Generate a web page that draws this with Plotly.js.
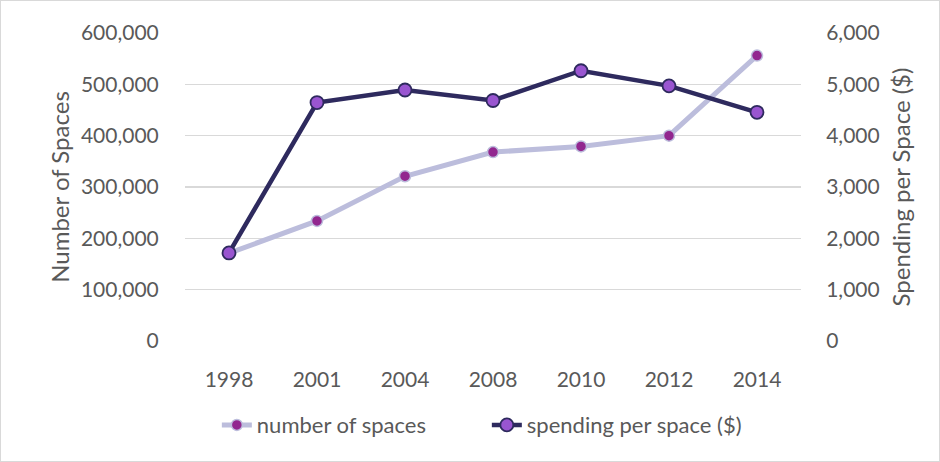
<!DOCTYPE html>
<html><head><meta charset="utf-8">
<script src="https://cdn.plot.ly/plotly-3.0.1.min.js"></script>
<style>html,body{margin:0;padding:0;background:#fff}#wrap{position:relative;width:940px;height:462px}#chart{width:940px;height:462px}#frame{position:absolute;left:0;top:0;width:938px;height:460px;border:1px solid #d9d9d9;pointer-events:none}</style>
</head><body><div id="wrap"><div id="chart"></div><div id="frame"></div></div>
<script>
const years = ['1998','2001','2004','2008','2010','2012','2014'];
const numberOfSpaces = [171000, 234000, 321000, 368000, 379000, 400000, 556000];
const spendingPerSpace = [1715, 4645, 4890, 4685, 5265, 4970, 4455];

const font = 'Lato, "Open Sans", "Liberation Sans", sans-serif';
const grey = '#595959';
const traces = [
  {x: years, y: numberOfSpaces, name: 'number of spaces', type: 'scatter', mode: 'lines+markers',
   line: {color: '#bcbddc', width: 5}, marker: {color: '#92278f', size: 11, line: {color: '#bcbddc', width: 1.5}}, yaxis: 'y'},
  {x: years, y: spendingPerSpace, name: 'spending per space ($)', type: 'scatter', mode: 'lines+markers',
   line: {color: '#2e2a5e', width: 4.5}, marker: {color: '#9955d0', size: 13, line: {color: '#2e2a5e', width: 1.8}}, yaxis: 'y2'}
];
const layout = {
  width: 940, height: 462,
  margin: {l: 185, r: 139, t: 33, b: 121},
  paper_bgcolor: '#fff', plot_bgcolor: '#fff',
  font: {family: font, color: grey, size: 21},
  showlegend: true,
  legend: {orientation: 'h', x: 0.49, xanchor: 'center', y: -0.273, yanchor: 'middle',
    font: {size: 22, color: grey}, tracegroupgap: 0, itemwidth: 30, entrywidth: 225},
  xaxis: {type: 'category', range: [-0.5, 6.5], showgrid: false, zeroline: false, showline: false,
    ticks: 'outside', ticklen: 20, tickcolor: 'rgba(0,0,0,0)', tickfont: {size: 21, color: grey}},
  yaxis: {range: [0, 600000], dtick: 100000, tickformat: ',d', gridcolor: '#d9d9d9', gridwidth: 1.3, zeroline: false,
    showline: false, ticks: 'outside', ticklen: 21, tickcolor: 'rgba(0,0,0,0)', tickfont: {size: 21, color: grey},
    title: {text: 'Number of Spaces', font: {size: 24, color: grey}, standoff: 4}},
  yaxis2: {range: [0, 6000], dtick: 1000, tickformat: ',d', overlaying: 'y', side: 'right', showgrid: false, zeroline: false,
    showline: false, ticks: 'outside', ticklen: 20, tickcolor: 'rgba(0,0,0,0)', tickfont: {size: 21, color: grey},
    title: {text: 'Spending per Space ($)', font: {size: 24, color: grey}, standoff: 14}}
};
Plotly.newPlot('chart', traces, layout, {displayModeBar: false, staticPlot: true});
</script></body></html>
